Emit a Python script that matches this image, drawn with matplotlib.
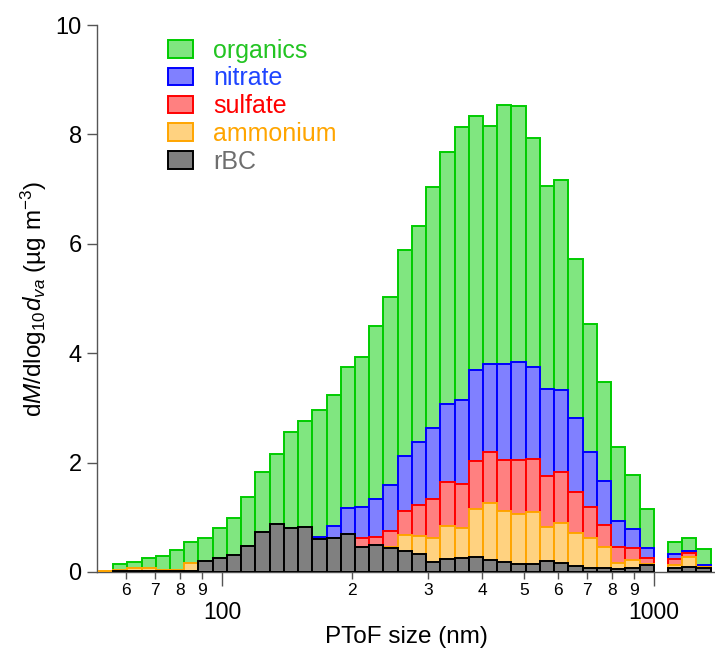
import numpy as np
import matplotlib.pyplot as plt
from matplotlib.patches import Patch
from matplotlib.ticker import FixedLocator, FuncFormatter, NullLocator

plt.rcParams['font.family'] = ['Liberation Sans', 'DejaVu Sans']
plt.rcParams['mathtext.fontset'] = 'custom'
plt.rcParams['mathtext.rm'] = 'Liberation Sans'
plt.rcParams['mathtext.it'] = 'Liberation Sans:italic'

nan = np.nan

# PToF size grid: log-spaced bins (lower edge of first bin, bin width in decades)
D_FIRST = 51.86
DLOG = 0.03294
N_BINS = 43

# mass size distributions, dM/dlog10(dva) in ug m-3 (one value per bin, nan = no data)
rbc = [0.0, 0.02, 0.02, 0.02, 0.02, 0.02, 0.02, 0.20, 0.25, 0.31,
       0.47, 0.74, 0.88, 0.80, 0.82, 0.60, 0.62, 0.69, 0.46, 0.49,
       0.44, 0.39, 0.33, 0.19, 0.24, 0.25, 0.28, 0.22, 0.19, 0.14,
       0.14, 0.21, 0.16, 0.11, 0.07, 0.07, 0.06, 0.08, 0.13, nan,
       0.07, 0.10, 0.07]
ammonium = [0.01, 0.02, 0.05, 0.05, 0.01, 0.01, 0.15, 0.0, 0.0, 0.0,
            0.0, 0.0, 0.0, 0.0, 0.0, 0.0, 0.0, 0.0, 0.0, 0.0,
            0.01, 0.29, 0.33, 0.44, 0.61, 0.56, 0.88, 1.05, 0.92, 0.92,
            0.96, 0.62, 0.73, 0.60, 0.56, 0.39, 0.10, 0.14, 0.01, nan,
            0.06, 0.17, 0.02]
sulfate = [0.0, 0.0, 0.0, 0.0, 0.0, 0.0, 0.0, 0.0, 0.0, 0.0,
           0.0, 0.0, 0.0, 0.0, 0.0, 0.0, 0.0, 0.0, 0.17, 0.15,
           0.30, 0.44, 0.56, 0.70, 0.79, 0.79, 0.87, 0.93, 0.94, 0.99,
           0.96, 0.93, 0.94, 0.76, 0.55, 0.40, 0.29, 0.21, 0.11, nan,
           0.10, 0.08, 0.01]
nitrate = [0.0, 0.0, 0.0, 0.0, 0.0, 0.0, 0.0, 0.0, 0.0, 0.0,
           0.0, 0.0, 0.0, 0.0, 0.0, 0.04, 0.23, 0.48, 0.56, 0.69,
           0.84, 1.00, 1.16, 1.31, 1.43, 1.54, 1.66, 1.60, 1.76, 1.79,
           1.69, 1.58, 1.50, 1.35, 1.02, 0.80, 0.49, 0.35, 0.18, nan,
           0.09, 0.03, 0.03]
organics = [0.0, 0.10, 0.11, 0.19, 0.27, 0.37, 0.38, 0.43, 0.55, 0.67,
            0.91, 1.09, 1.27, 1.76, 1.94, 2.32, 2.38, 2.58, 2.74, 3.16,
            3.44, 3.76, 3.95, 4.40, 4.60, 4.99, 4.65, 4.36, 4.73, 4.68,
            4.19, 3.72, 3.83, 2.90, 2.33, 1.81, 1.35, 0.99, 0.73, nan,
            0.22, 0.25, 0.29]

# stacking order, bottom to top: (label, values, edge colour, fill colour, text colour)
species = [
    ('rBC', rbc, '#000000', '#808080', '#6e6e6e'),
    ('ammonium', ammonium, '#ffa500', '#ffd280', '#ffa500'),
    ('sulfate', sulfate, '#ff0000', '#ff8080', '#ff0000'),
    ('nitrate', nitrate, '#0000ff', '#8080ff', '#1f45ff'),
    ('organics', organics, '#00cc00', '#80e680', '#22c422'),
]

edges = D_FIRST * 10 ** (DLOG * np.arange(N_BINS + 1))
left = edges[:-1]
width = np.diff(edges)

fig = plt.figure(figsize=(7.15, 6.5), dpi=100)
ax = fig.add_axes([97 / 715, 78 / 650, 618 / 715, 547 / 650])
ax.set_xscale('log')

bottom = np.zeros(N_BINS)
for i, (name, vals, ec, fc, tc) in enumerate(species):
    v = np.asarray(vals, dtype=float)
    ok = np.isfinite(v) & (v > 0)
    # lower layers go on top so their outlines win at shared boundaries
    ax.bar(left[ok], v[ok], width=width[ok], bottom=bottom[ok], align='edge',
           facecolor=fc, edgecolor=ec, linewidth=1.4, zorder=10 - i)
    bottom = bottom + np.nan_to_num(v)

ax.set_xlim(10 ** 1.7106, 10 ** 3.1412)
ax.set_ylim(0, 10)

for s in ['top', 'right']:
    ax.spines[s].set_visible(False)
for s in ['left', 'bottom']:
    ax.spines[s].set_color('#555555')
    ax.spines[s].set_linewidth(1.0)

ax.set_yticks([0, 2, 4, 6, 8, 10])
ax.yaxis.set_minor_locator(NullLocator())
ax.tick_params(axis='y', direction='out', length=7, width=1, color='#555555',
               labelsize=17, pad=4)

ax.xaxis.set_major_locator(FixedLocator([100, 1000]))
ax.xaxis.set_major_formatter(FuncFormatter(lambda x, p: f'{x:.0f}'))
minor = [60, 70, 80, 90] + list(range(200, 1000, 100))
ax.xaxis.set_minor_locator(FixedLocator(minor))
ax.xaxis.set_minor_formatter(FuncFormatter(lambda x, p: f'{x:.0f}'[0]))
ax.tick_params(axis='x', which='major', direction='out', length=10, width=1,
               color='#555555', labelsize=16.5, pad=11)
ax.tick_params(axis='x', which='minor', direction='out', length=5, width=1,
               color='#555555', labelsize=12.5, pad=3)

ax.set_xlabel('PToF size (nm)', fontsize=17.5, labelpad=1)
ax.set_ylabel(r'd$\it{M}$/dlog$_{10}$$\it{d}_{va}$ (µg m$^{-3}$)', fontsize=17.5,
              labelpad=5)

handles = [Patch(facecolor=fc, edgecolor=ec, linewidth=1.4)
           for _, _, ec, fc, _ in species[::-1]]
labels = [name for name, *_ in species[::-1]]
tcols = [tc for *_, tc in species[::-1]]
ax.legend(handles, labels, loc='upper left', bbox_to_anchor=(0.115, 0.975),
          frameon=False, fontsize=18, labelcolor=tcols, handlelength=1.0,
          handleheight=0.7, handletextpad=0.8, labelspacing=0.15,
          borderaxespad=0, borderpad=0)

fig.savefig('out.png', dpi=100)
